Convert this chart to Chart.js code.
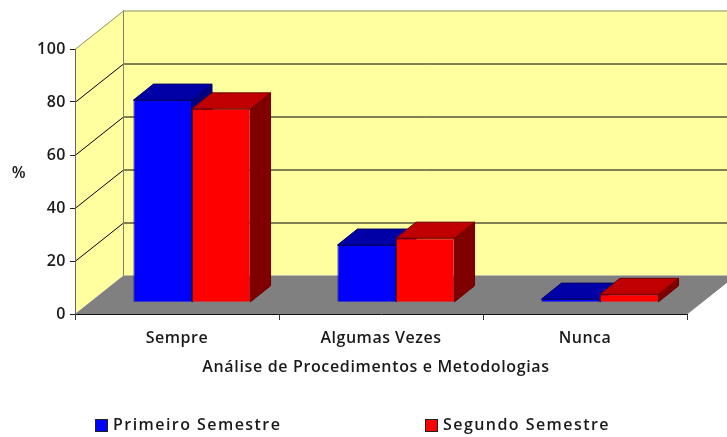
<!DOCTYPE html>
<html><head><meta charset="utf-8">
<style>html,body{margin:0;padding:0;background:#fff}#w{width:727px;height:437px}</style>
<script src="https://cdn.jsdelivr.net/npm/chart.js@4"></script>
</head><body><div id="w"><canvas id="c"></canvas></div>
<script>
const categories = ["Sempre", "Algumas Vezes", "Nunca"];
const primeiroSemestre = [76.3, 21.6, 1.2];
const segundoSemestre = [73, 24.2, 3];
const yTicks = [0, 20, 40, 60, 80, 100];
const seriesNames = ["Primeiro Semestre", "Segundo Semestre"];
const xTitle = "Análise de Procedimentos e Metodologias";
const yTitle = "%";

const FONT = '600 16px "Open Sans"';
const WALL = {dx: 48.5, dy: -38.5};
const FRONT = {dx: 15, dy: -11.7};
const BAR = {dx: 20, dy: -16};
const shades = [
  {front: "#0000ff", top: "#0000a6", side: "#000080", line: "#00006a"},
  {front: "#ff0000", top: "#c00000", side: "#800000", line: "#6e0000"}
];
function poly(ctx, pts, fill, stroke) {
  ctx.beginPath();
  pts.forEach((p, i) => i ? ctx.lineTo(p[0], p[1]) : ctx.moveTo(p[0], p[1]));
  ctx.closePath();
  if (fill) { ctx.fillStyle = fill; ctx.fill(); }
  if (stroke) { ctx.strokeStyle = stroke; ctx.lineWidth = 1; ctx.stroke(); }
}
const box3d = {
  id: "box3d",
  beforeDraw(chart) {
    const {ctx, scales: {x, y}} = chart;
    const L = x.left, R = x.right, T = y.getPixelForValue(100), B = y.getPixelForValue(0);
    const {dx, dy} = WALL;
    ctx.letterSpacing = "0.5px";
    ctx.save();
    poly(ctx, [[L, T], [L + dx, T + dy], [R + dx, T + dy], [R + dx, B + dy], [L + dx, B + dy], [L, B]], "#ffff9f");
    poly(ctx, [[L, B], [L + dx, B + dy], [R + dx, B + dy], [R, B]], "#808080");
    ctx.lineWidth = 1;
    yTicks.forEach(v => {
      if (v === 0) return;
      const p = Math.round(y.getPixelForValue(v)) + 0.5;
      ctx.strokeStyle = v === 100 ? "#8f8f70" : "#000000";
      ctx.beginPath();
      ctx.moveTo(L, p); ctx.lineTo(L + dx, p + dy); ctx.lineTo(R + dx, p + dy);
      ctx.stroke();
    });
    ctx.strokeStyle = "#808070";
    ctx.beginPath();
    ctx.moveTo(L + dx, T + dy); ctx.lineTo(L + dx, B + dy);
    ctx.stroke();
    ctx.strokeStyle = "#808080";
    ctx.beginPath();
    ctx.moveTo(R, B); ctx.lineTo(R + dx, B + dy);
    ctx.stroke();
    ctx.restore();
  },
  beforeDatasetDraw() {
    return false;
  },
  afterDatasetsDraw(chart) {
    const {ctx} = chart;
    ctx.save();
    ctx.translate(FRONT.dx, FRONT.dy);
    categories.forEach((_, k) => {
      shades.forEach((s, i) => {
        const b = chart.getDatasetMeta(i).data[k];
        const l = b.x - b.width / 2, r = b.x + b.width / 2, t = b.y, bt = b.base;
        poly(ctx, [[r, t], [r + BAR.dx, t + BAR.dy], [r + BAR.dx, bt + BAR.dy], [r, bt]], s.side, s.line);
        poly(ctx, [[l, t], [l + BAR.dx, t + BAR.dy], [r + BAR.dx, t + BAR.dy], [r, t]], s.top, s.line);
        b.draw(ctx);
      });
    });
    ctx.restore();
  },
  afterDraw(chart) {
    const {ctx} = chart;
    ctx.save();
    ctx.fillStyle = "#1a1a1a";
    ctx.font = FONT;
    ctx.textBaseline = "middle";
    ctx.textAlign = "center";
    ctx.letterSpacing = "0.65px";
    ctx.fillText(yTitle, 19, 173);
    ctx.fillText(xTitle, 376, 367);
    ctx.textAlign = "left";
    ctx.letterSpacing = "1.45px";
    const leg = [95, 425];
    seriesNames.forEach((n, i) => {
      ctx.fillStyle = shades[i].front;
      ctx.fillRect(leg[i], 419, 13, 13);
      ctx.strokeStyle = "#222";
      ctx.lineWidth = 1;
      ctx.strokeRect(leg[i] + 0.5, 419.5, 12, 12);
      ctx.fillStyle = "#1a1a1a";
      ctx.fillText(n, leg[i] + 18, 425);
    });
    ctx.restore();
  }
};
new Chart(document.getElementById("c"), {
  type: "bar",
  plugins: [box3d],
  data: {
    labels: categories,
    datasets: [
      {label: seriesNames[0], data: primeiroSemestre, backgroundColor: shades[0].front, borderColor: shades[0].line, borderWidth: 1},
      {label: seriesNames[1], data: segundoSemestre, backgroundColor: shades[1].front, borderColor: shades[1].line, borderWidth: 1}
    ]
  },
  options: {
    responsive: true, maintainAspectRatio: false, animation: false,
    categoryPercentage: 0.574, barPercentage: 1,
    layout: {padding: {top: 49, right: 40, left: 0, bottom: 0}},
    plugins: {legend: {display: false}, tooltip: {enabled: false}, title: {display: false}},
    scales: {
      x: {
        afterFit(s) { s.height = 123; },
        grid: {drawOnChartArea: false, drawTicks: true, tickLength: 6, color: "#333"},
        border: {color: "#111", width: 1},
        ticks: {color: "#1a1a1a", font: {family: "Open Sans", size: 16, weight: "600"}, padding: 9, maxRotation: 0}
      },
      y: {
        min: 0, max: 100,
        afterFit(s) { s.width = 75; },
        afterBuildTicks(s) { s.ticks = yTicks.map(v => ({value: v})); },
        grid: {drawOnChartArea: false, drawTicks: true, tickLength: 5, color: "#222"},
        border: {color: "#666", width: 1},
        ticks: {color: "#1a1a1a", font: {family: "Open Sans", size: 16, weight: "600"}, padding: 4}
      }
    }
  }
});
</script></body></html>
